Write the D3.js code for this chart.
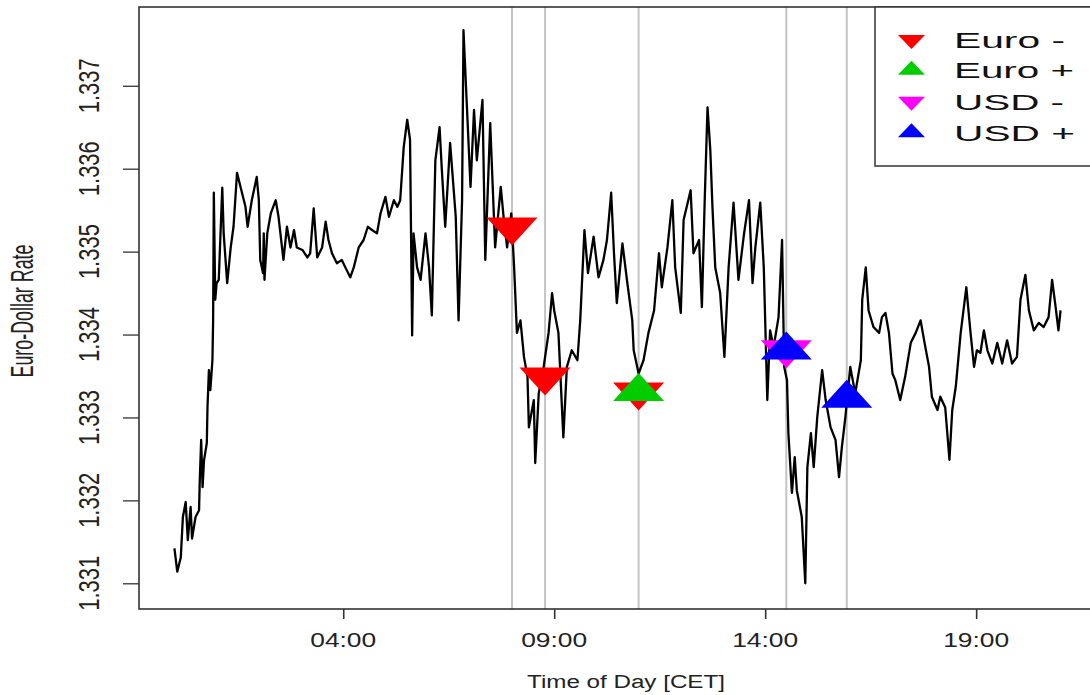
<!DOCTYPE html>
<html><head><meta charset="utf-8">
<script src="https://cdn.jsdelivr.net/npm/d3@7"></script>
<style>body{margin:0;background:#fff;} svg{display:block;font-family:"Liberation Sans",Arial,sans-serif;}</style>
</head><body><svg id="c" width="1090" height="695"></svg>
<script>
// minutes after midnight (CET)
const times = [0,4,9,12,16,19,23,25,30,35,36,38,40,42,46,47,49,51,54,55,56,58,60,63,68,70,75,80,84,89,94,101,104,110,117,120,122,126,127,128,132,137,144,148,155,160,165,170,174,182,189,193,198,203,210,215,219,224,231,238,243,250,255,262,269,275,281,288,293,300,305,312,317,321,326,331,335,338,340,345,350,357,362,366,371,377,380,385,392,400,404,409,411,415,421,426,430,438,442,449,456,464,468,473,479,483,487,492,497,502,504,511,513,518,525,532,537,540,546,553,558,565,573,577,583,588,596,603,610,615,621,625,629,637,644,651,653,660,667,674,682,689,693,701,708,712,720,724,734,738,746,750,754,758,762,765,769,776,782,788,795,802,810,817,822,826,833,838,843,847,852,859,864,867,871,873,878,882,885,892,897,900,905,909,914,921,926,933,940,945,949,954,961,968,976,978,983,987,994,1002,1006,1011,1016,1021,1025,1032,1039,1047,1054,1061,1066,1073,1077,1085,1089,1096,1102,1106,1111,1118,1126,1132,1137,1141,1146,1151,1156,1163,1170,1177,1184,1191,1198,1203,1210,1215,1222,1229,1236,1243,1248,1253,1257,1260];
const rates = [1.33142,1.33114,1.33131,1.33180,1.33198,1.33152,1.33192,1.33154,1.33180,1.33188,1.33224,1.33273,1.33216,1.33248,1.33269,1.33313,1.33357,1.33333,1.33369,1.33417,1.33571,1.33442,1.33462,1.33466,1.33577,1.33522,1.33462,1.33505,1.33530,1.33595,1.33578,1.33554,1.33530,1.33562,1.33590,1.33562,1.33490,1.33474,1.33522,1.33466,1.33522,1.33546,1.33562,1.33542,1.33490,1.33530,1.33505,1.33526,1.33505,1.33502,1.33493,1.33498,1.33552,1.33493,1.33505,1.33536,1.33514,1.33498,1.33486,1.33490,1.33481,1.33469,1.33481,1.33505,1.33514,1.33530,1.33526,1.33522,1.33546,1.33566,1.33542,1.33562,1.33554,1.33562,1.33626,1.33659,1.33635,1.33399,1.33522,1.33481,1.33466,1.33522,1.33481,1.33423,1.33610,1.33650,1.33602,1.33530,1.33631,1.33542,1.33417,1.33562,1.33767,1.33691,1.33578,1.33671,1.33610,1.33683,1.33490,1.33655,1.33505,1.33578,1.33542,1.33505,1.33546,1.33481,1.33402,1.33417,1.33373,1.33349,1.33288,1.33321,1.33245,1.33329,1.33361,1.33402,1.33450,1.33429,1.33402,1.33276,1.33361,1.33381,1.33369,1.33417,1.33526,1.33474,1.33518,1.33469,1.33490,1.33514,1.33571,1.33498,1.33438,1.33510,1.33462,1.33417,1.33381,1.33353,1.33369,1.33402,1.33429,1.33498,1.33457,1.33505,1.33562,1.33481,1.33426,1.33538,1.33574,1.33498,1.33514,1.33433,1.33562,1.33674,1.33622,1.33554,1.33481,1.33450,1.33373,1.33481,1.33559,1.33466,1.33522,1.33562,1.33462,1.33505,1.33559,1.33481,1.33321,1.33405,1.33385,1.33421,1.33514,1.33361,1.33345,1.33281,1.33209,1.33252,1.33212,1.33180,1.33100,1.33240,1.33281,1.33240,1.33300,1.33357,1.33321,1.33288,1.33273,1.33228,1.33264,1.33300,1.33361,1.33329,1.33369,1.33442,1.33481,1.33429,1.33409,1.33402,1.33421,1.33426,1.33402,1.33353,1.33345,1.33321,1.33349,1.33390,1.33402,1.33417,1.33393,1.33361,1.33325,1.33309,1.33325,1.33312,1.33249,1.33309,1.33337,1.33402,1.33457,1.33402,1.33361,1.33381,1.33378,1.33405,1.33381,1.33365,1.33390,1.33365,1.33393,1.33365,1.33373,1.33442,1.33472,1.33429,1.33405,1.33414,1.33409,1.33421,1.33466,1.33433,1.33405,1.33429];

const eventTimes = [480, 527, 660, 870, 956];
const markerSeries = ["Euro -", "Euro +", "USD -", "USD +"];
const markerColors = ["#ff0000", "#00cd00", "#ff00ff", "#0000ff"];
const markerDir = ["down", "up", "down", "up"];
const markerTimes = [[480, 527, 660], [660], [870], [870, 956]];
const markerRates = [[1.33530, 1.33349, 1.33331], [1.33331], [1.33382], [1.33381, 1.33323]];

const yTicks = [1.331, 1.332, 1.333, 1.334, 1.335, 1.336, 1.337];
const yTickLabels = ["1.331", "1.332", "1.333", "1.334", "1.335", "1.336", "1.337"];
const xTicks = [240, 540, 840, 1140];
const xTickLabels = ["04:00", "09:00", "14:00", "19:00"];
const xTitle = "Time of Day [CET]";
const yTitle = "Euro-Dollar Rate";

const L = 139, R = 1096, T = 7, B = 609;
const svg = d3.select("#c");
const x = d3.scaleLinear().domain([-50.4, 1310.4]).range([L, R]);
const y = d3.scaleLinear().domain([1.33069, 1.33795]).range([B, T]);

svg.append("defs").append("clipPath").attr("id", "clip")
  .append("rect").attr("x", L).attr("y", T).attr("width", R - L).attr("height", B - T);
const plot = svg.append("g").attr("clip-path", "url(#clip)");

// vertical event lines
plot.selectAll("line.ev").data(eventTimes).join("line").attr("class", "ev")
  .attr("x1", d => x(d)).attr("x2", d => x(d)).attr("y1", T).attr("y2", B)
  .attr("stroke", "#c4c4c4").attr("stroke-width", 2);

// series
const pts = times.map((t, i) => [t, rates[i]]);
plot.append("path").datum(pts)
  .attr("d", d3.line().x(d => x(d[0])).y(d => y(d[1])))
  .attr("fill", "none").attr("stroke", "#000").attr("stroke-width", 2.3)
  .attr("stroke-linejoin", "round");

function tri(w, h, dir) {
  const s = dir === "up" ? 1 : -1;
  return `M0,${-s * 2 * h / 3}L${w / 2},${s * h / 3}L${-w / 2},${s * h / 3}Z`;
}

markerSeries.forEach((name, k) => {
  const pts = markerTimes[k].map((t, i) => [t, markerRates[k][i]]);
  plot.selectAll(null).data(pts).join("path")
    .attr("transform", d => `translate(${x(d[0])},${y(d[1])})`)
    .attr("d", tri(51, 28, markerDir[k]))
    .attr("fill", markerColors[k]);
});

// frame
svg.append("rect").attr("x", L).attr("y", T).attr("width", R - L).attr("height", B - T)
  .attr("fill", "none").attr("stroke", "#333").attr("stroke-width", 1.6);

// axes
const ax = svg.append("g").attr("transform", `translate(0,${B})`)
  .call(d3.axisBottom(x).tickValues(xTicks).tickSize(10).tickFormat(""));
ax.select(".domain").remove();
ax.selectAll("line").attr("stroke", "#333").attr("stroke-width", 1.6);
svg.selectAll("text.xt").data(xTicks).join("text").attr("class", "xt")
  .attr("x", d => x(d)).attr("y", 647).attr("text-anchor", "middle")
  .attr("font-size", 19.5).attr("fill", "#222")
  .attr("textLength", 66).attr("lengthAdjust", "spacingAndGlyphs")
  .text((d, i) => xTickLabels[i]);

const ay = svg.append("g").attr("transform", `translate(${L},0)`)
  .call(d3.axisLeft(y).tickValues(yTicks).tickSize(16).tickFormat(""));
ay.select(".domain").remove();
ay.selectAll("line").attr("stroke", "#333").attr("stroke-width", 1.3);
svg.selectAll("text.yt").data(yTicks).join("text").attr("class", "yt")
  .attr("transform", d => `translate(99,${y(d)}) rotate(-90)`)
  .attr("text-anchor", "middle").attr("font-size", 30).attr("fill", "#222")
  .attr("textLength", 55).attr("lengthAdjust", "spacingAndGlyphs")
  .text((d, i) => yTickLabels[i]);

svg.append("text").attr("x", 626).attr("y", 688).attr("text-anchor", "middle")
  .attr("font-size", 18).attr("fill", "#222")
  .attr("textLength", 198).attr("lengthAdjust", "spacingAndGlyphs").text(xTitle);
svg.append("text").attr("transform", `translate(33,${(T + B) / 2 + 3}) rotate(-90)`)
  .attr("text-anchor", "middle").attr("font-size", 31).attr("fill", "#222")
  .attr("textLength", 133).attr("lengthAdjust", "spacingAndGlyphs").text(yTitle);

// legend
const lg = svg.append("g");
lg.append("rect").attr("x", 875).attr("y", T).attr("width", R - 875).attr("height", 159)
  .attr("fill", "#fff").attr("stroke", "#333").attr("stroke-width", 1.5);
const baselines = [47.7, 78, 109.5, 140.7];
const lens = [111, 120, 110, 121];
markerSeries.forEach((name, k) => {
  lg.append("path").attr("transform", `translate(911.5,${baselines[k] - 8})`)
    .attr("d", tri(27, 14, markerDir[k])).attr("fill", markerColors[k]);
  lg.append("text").attr("x", 954).attr("y", baselines[k]).attr("font-size", 22)
    .attr("fill", "#111").attr("textLength", lens[k]).attr("lengthAdjust", "spacingAndGlyphs")
    .text(name);
});
</script></body></html>
